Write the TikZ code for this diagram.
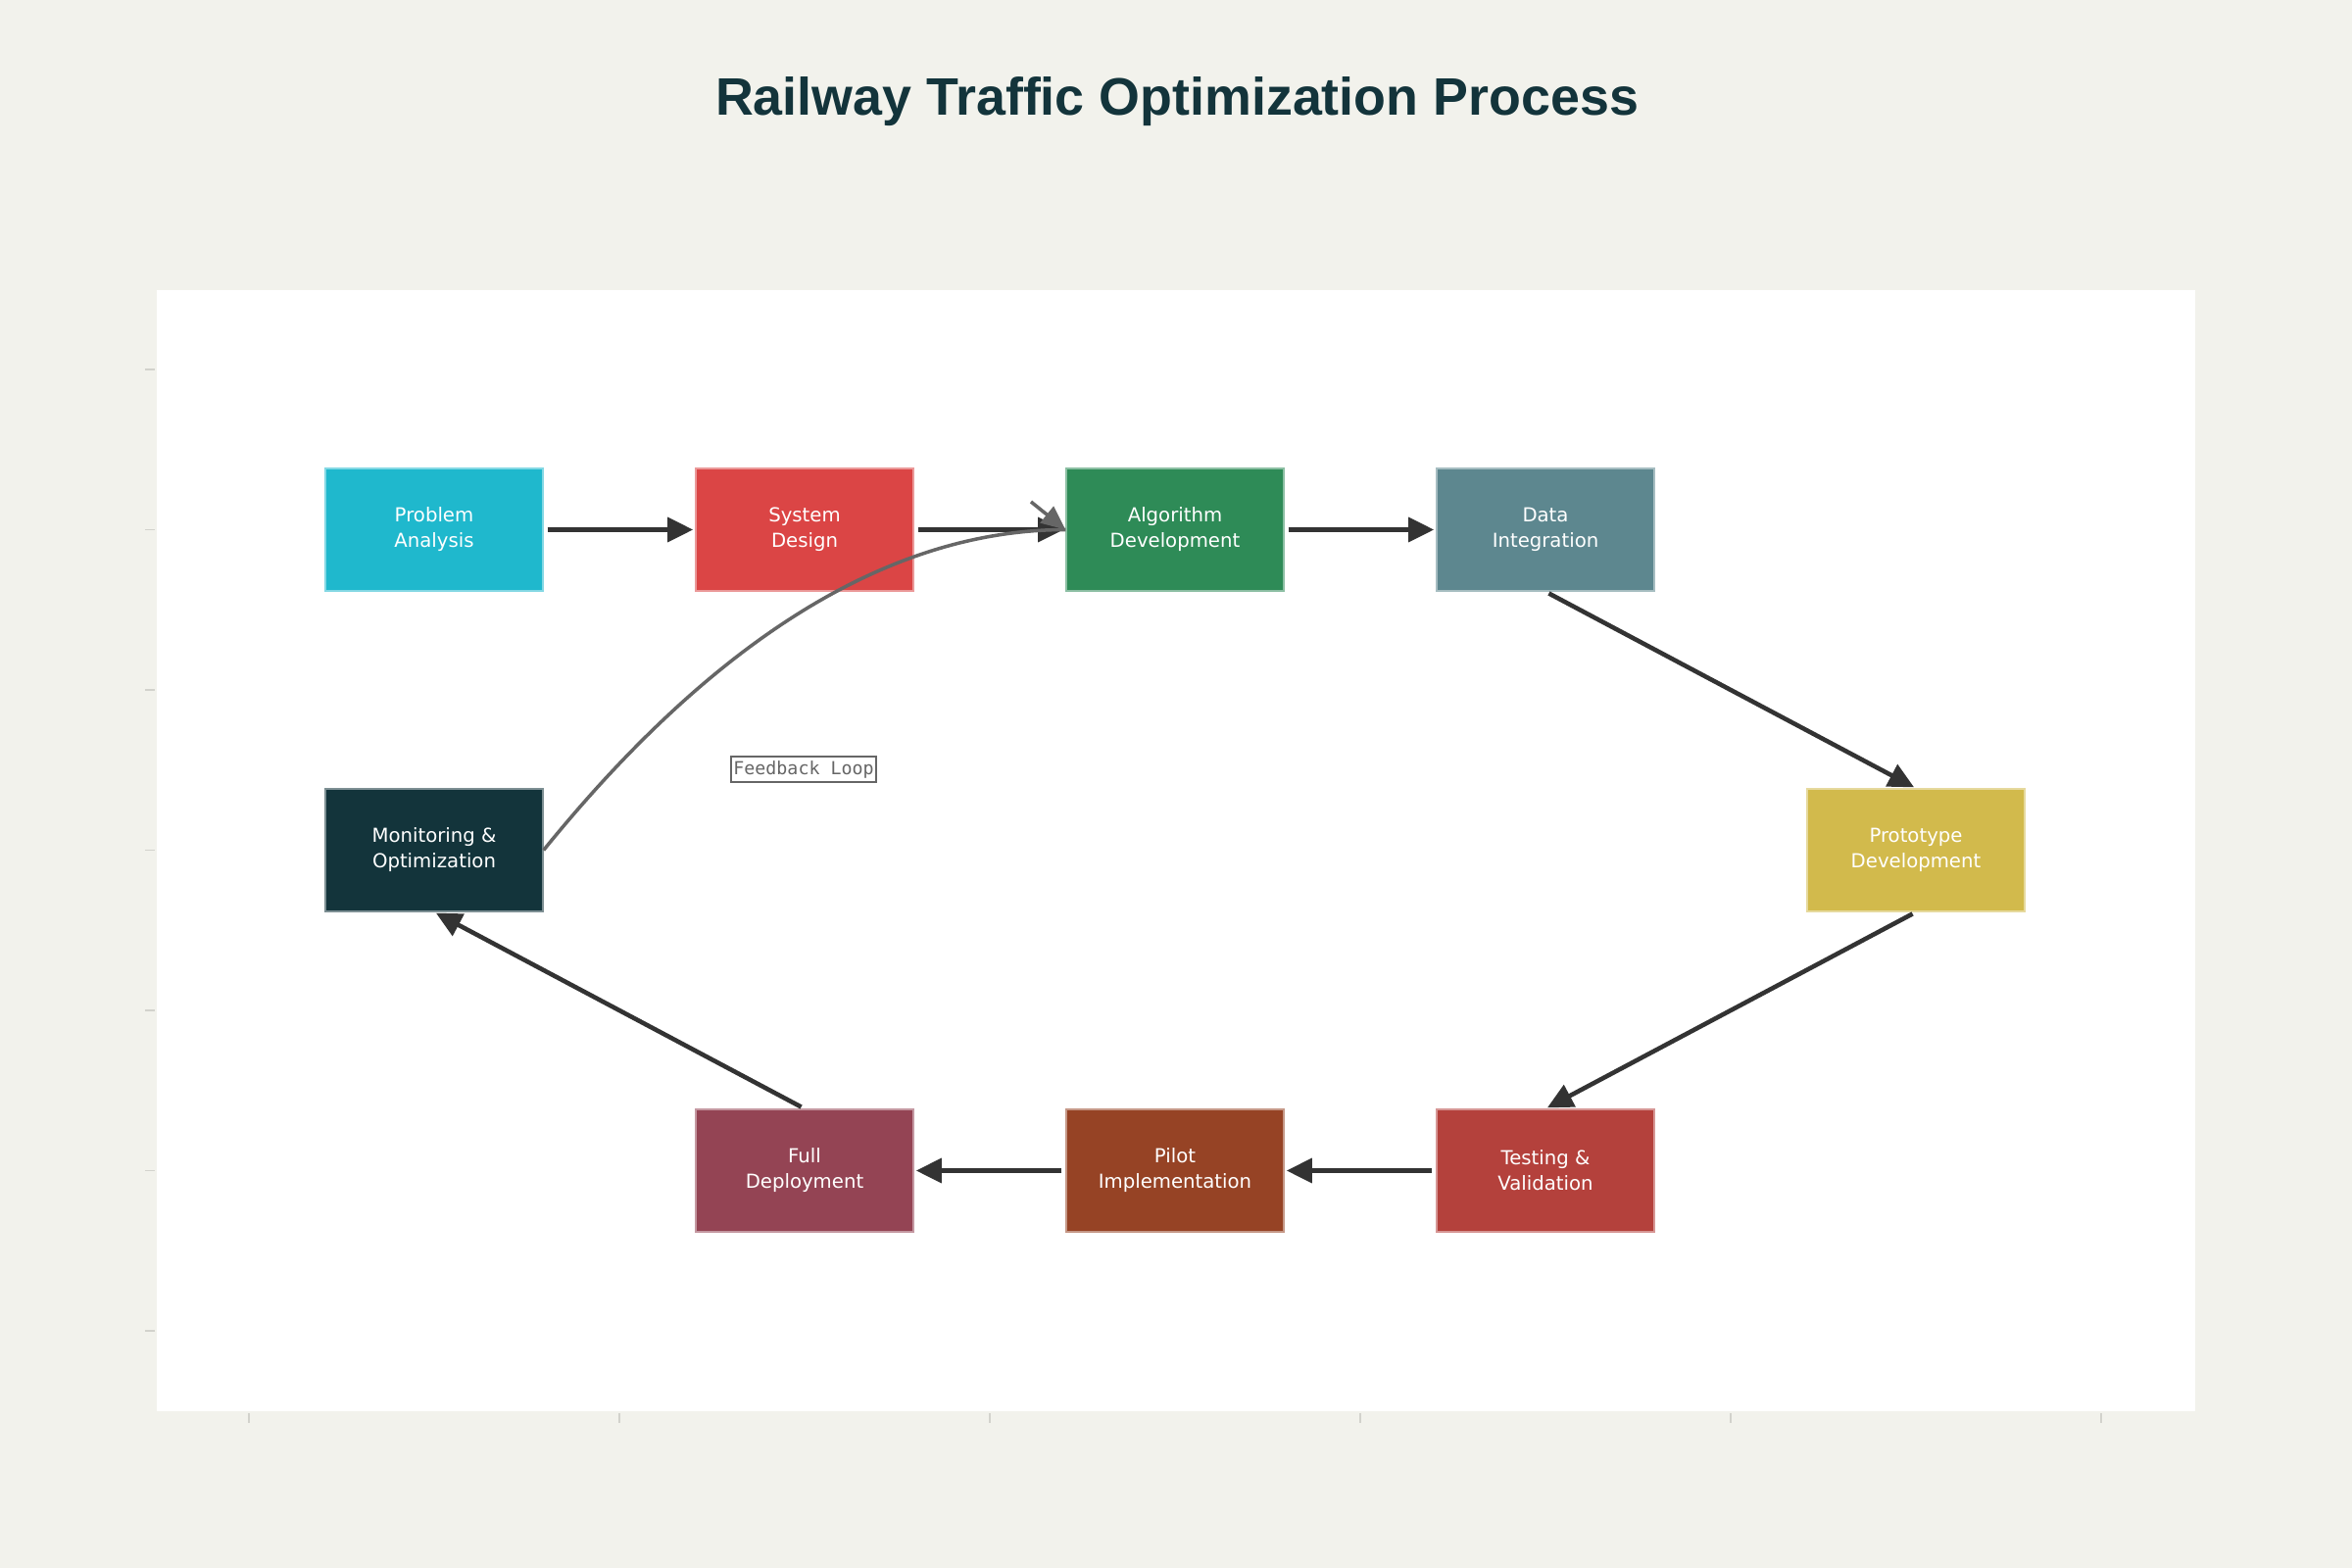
\documentclass[tikz,border=0pt]{standalone}
\usepackage{fontspec}
\setmainfont{DejaVu Sans}
\newfontfamily\titlefont{Liberation Sans}
\newfontfamily\fbmono{DejaVu Sans Mono}
\usetikzlibrary{arrows.meta}
\definecolor{bg}{HTML}{F2F2EC}
\definecolor{ttl}{HTML}{13343B}
\definecolor{tickc}{HTML}{D2D2CC}
\definecolor{edgec}{HTML}{333333}
\definecolor{fbc}{HTML}{666666}
\definecolor{cPA}{HTML}{1FB8CD}
\definecolor{cSD}{HTML}{DB4545}
\definecolor{cAL}{HTML}{2E8B57}
\definecolor{cDI}{HTML}{5D878F}
\definecolor{cPR}{HTML}{D2BA4C}
\definecolor{cTV}{HTML}{B4413C}
\definecolor{cPI}{HTML}{964325}
\definecolor{cFD}{HTML}{944454}
\definecolor{cMO}{HTML}{13343B}
\tikzset{
  stepbox/.style={rectangle, minimum width=2.22cm, minimum height=1.25cm, inner sep=0pt,
    align=center, text=white, line width=0.35pt,
    font=\fontsize{5.6}{7.4}\selectfont,
    execute at begin node={\rule{0pt}{6pt}}},
  flowedge/.style={draw=edgec, line width=1.3pt, -{Triangle[length=7.4pt,width=7pt]},
    shorten <=1.1pt, shorten >=0.6pt},
  fbline/.style={draw=fbc, line width=1pt},
  fbarrow/.style={draw=fbc, line width=1pt, -{Triangle[length=7pt,width=6pt]}, fill=fbc},
  fblabel/.style={draw=fbc, line width=0.45pt, text=fbc, inner sep=0pt,
    minimum width=1.48cm, minimum height=0.26cm,
    font=\fbmono\fontsize{5.2}{6}\selectfont},
  tickmark/.style={draw=tickc, line width=0.55pt}
}
\begin{document}
\begin{tikzpicture}[x=0.01cm,y=-0.01cm]
\fill[bg] (0,0) rectangle (2400,1600);
\useasboundingbox (0,0) rectangle (2400,1600);
\fill[white] (160,296) rectangle (2240,1440);
\foreach \yy in {377,540.5,704,867.5,1031,1194.5,1358} \draw[tickmark] (148,\yy) -- (158,\yy);
\foreach \xx in {254,632,1010,1388,1766,2144} \draw[tickmark] (\xx,1442) -- (\xx,1452);

\node[font=\titlefont\bfseries\fontsize{15.3}{18}\selectfont, text=ttl] (title) at (1201,104) {Railway Traffic Optimization Process};

\node[stepbox, fill=cPA, draw=cPA!55!white] (pa) at (443,540.5) {Problem\\Analysis};
\node[stepbox, fill=cSD, draw=cSD!55!white] (sd) at (821,540.5) {System\\Design};
\node[stepbox, fill=cAL, draw=cAL!55!white] (al) at (1199,540.5) {Algorithm\\Development};
\node[stepbox, fill=cDI, draw=cDI!55!white] (di) at (1577,540.5) {Data\\Integration};
\node[stepbox, fill=cPR, draw=cPR!55!white] (pr) at (1955,867.5) {Prototype\\Development};
\node[stepbox, fill=cMO, draw=cMO!55!white] (mo) at (443,867.5) {Monitoring \&\\Optimization};
\node[stepbox, fill=cFD, draw=cFD!55!white] (fd) at (821,1194.5) {Full\\Deployment};
\node[stepbox, fill=cPI, draw=cPI!55!white] (pi) at (1199,1194.5) {Pilot\\Implementation};
\node[stepbox, fill=cTV, draw=cTV!55!white] (tv) at (1577,1194.5) {Testing \&\\Validation};

\draw[flowedge] (pa.east) -- (sd.west);
\draw[flowedge] (sd.east) -- (al.west);
\draw[flowedge] (al.east) -- (di.west);
\draw[flowedge] (di.south) -- (pr.north);
\draw[flowedge] (pr.south) -- (tv.north);
\draw[flowedge] (tv.west) -- (pi.east);
\draw[flowedge] (pi.west) -- (fd.east);
\draw[flowedge] (fd.north) -- (mo.south);

\draw[fbline] (mo.east) .. controls +(176,-217) and +(-178,0) .. (al.west);
\coordinate (fbtail) at (1052,512);
\draw[fbarrow] (fbtail) -- (al.west);
\node[fblabel] (fbl) at (820,785) {Feedback Loop};
\end{tikzpicture}
\end{document}
